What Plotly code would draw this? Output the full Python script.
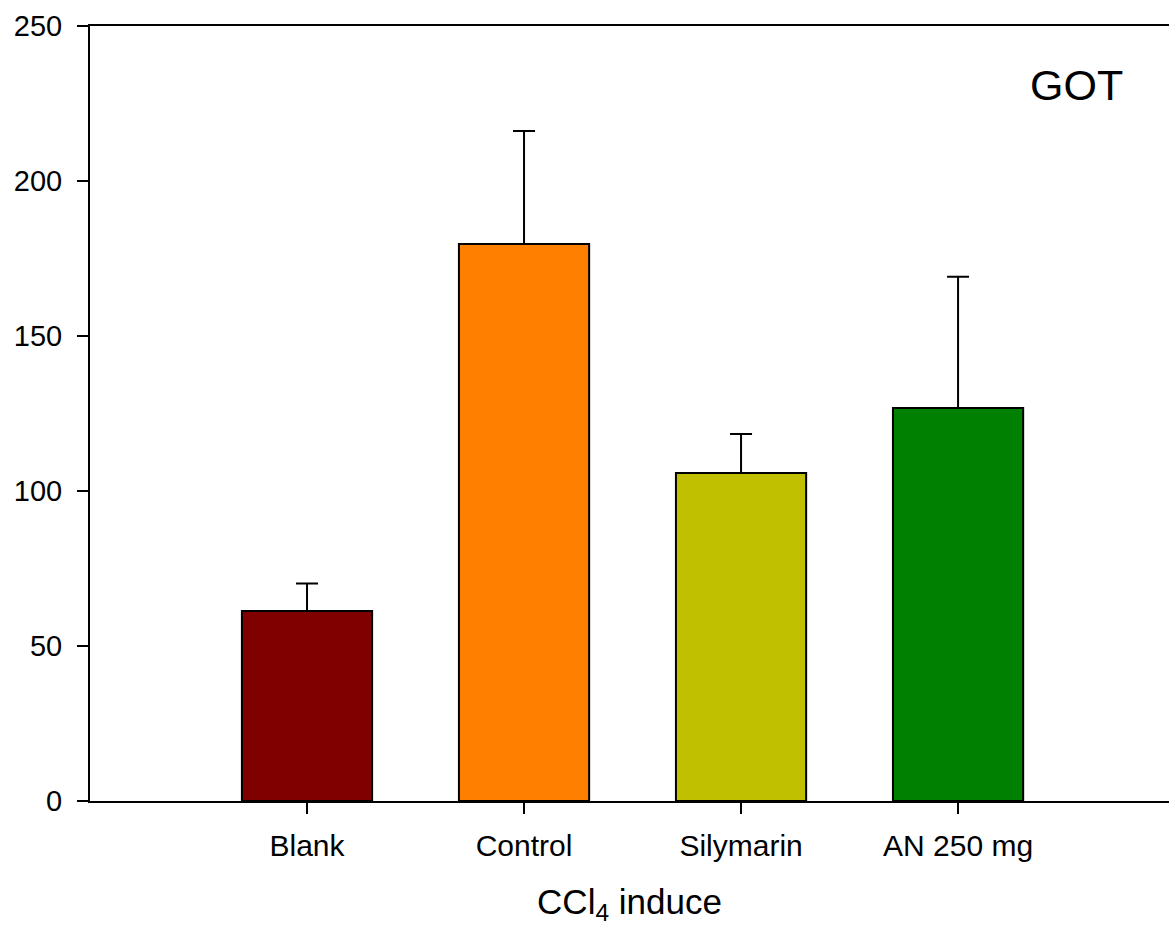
import plotly.graph_objects as go

categories = ["Blank", "Control", "Silymarin", "AN 250 mg"]
means = [61.3, 179.7, 105.8, 126.8]
errors = [8.9, 36.4, 12.6, 42.3]
colors = ["#800000", "#FF8000", "#C0C000", "#008000"]
positions = [1, 2, 3, 4]
y_ticks = [0, 50, 100, 150, 200, 250]

FONT = "Liberation Sans, Arial, sans-serif"

fig = go.Figure()
fig.add_trace(go.Bar(
    x=positions, y=means, width=0.6,
    marker=dict(color=colors, line=dict(color="black", width=2)),
    error_y=dict(type="data", array=errors, arrayminus=[0] * len(errors),
                 symmetric=False, color="black", thickness=2, width=11),
    showlegend=False,
))

fig.add_annotation(x=4.544, y=231, xref="x", yref="y", text="GOT",
                   showarrow=False, font=dict(family=FONT, size=43, color="black"),
                   xanchor="center", yanchor="middle")

fig.update_layout(
    width=1169, height=934,
    margin=dict(l=90, r=0, t=26, b=133),
    plot_bgcolor="white", paper_bgcolor="white",
    font=dict(family=FONT, color="black"),
    bargap=0.4,
)
fig.update_xaxes(
    range=[0, 4.972], tickvals=positions, ticktext=categories,
    showgrid=False, zeroline=False,
    showline=True, linecolor="black", linewidth=2, mirror=True,
    ticks="outside", ticklen=11, tickwidth=2, tickcolor="black",
    tickfont=dict(family=FONT, size=30),
    ticklabelstandoff=6,
    title=dict(text="CCl<sub>4</sub> induce", font=dict(family=FONT, size=35), standoff=28),
)
fig.update_yaxes(
    range=[0, 250], tickvals=y_ticks,
    showgrid=False, zeroline=False,
    showline=True, linecolor="black", linewidth=2, mirror=False,
    ticks="outside", ticklen=11, tickwidth=2, tickcolor="black",
    tickfont=dict(family=FONT, size=29),
    ticklabelstandoff=9,
)

fig.write_html("out.html")
